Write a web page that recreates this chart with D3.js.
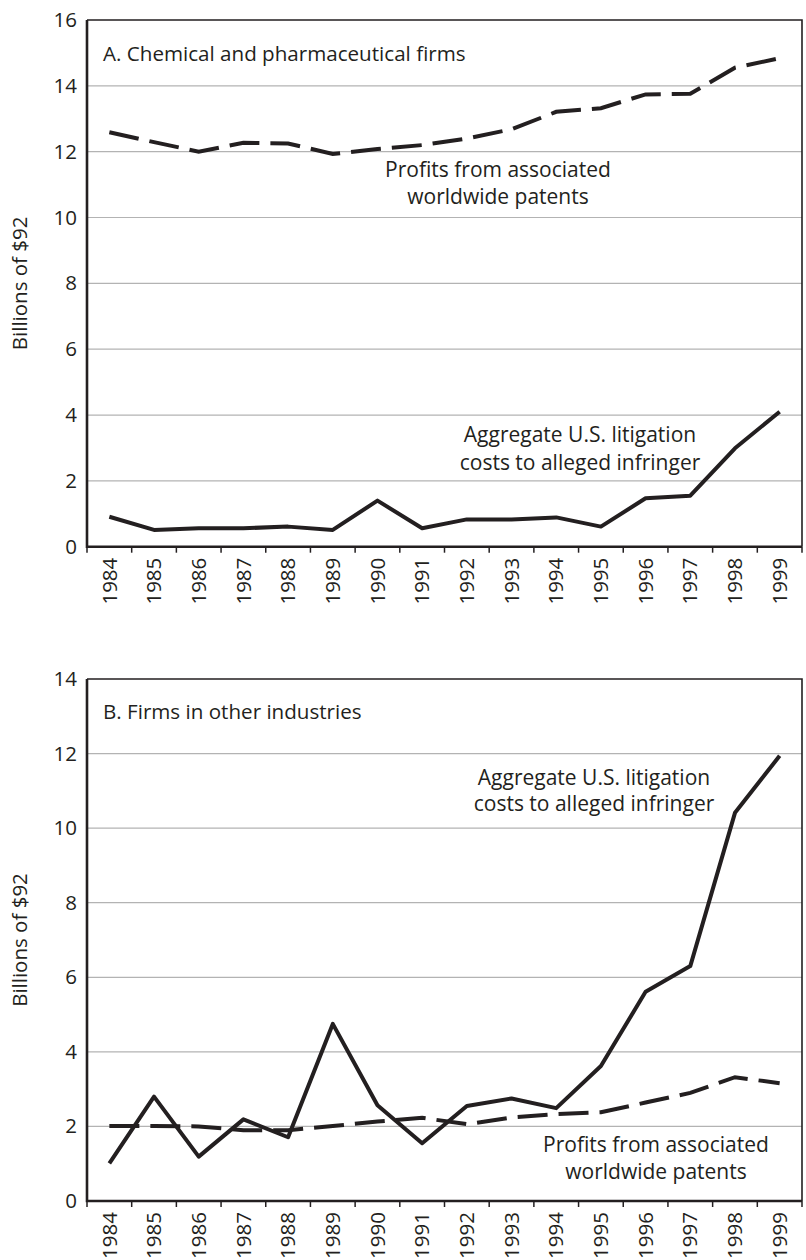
<!DOCTYPE html>
<html lang="en">
	<head>
		<meta charset="utf-8">
		<title>Patent profits and litigation costs</title>
		<script type="text/javascript" src="https://cdn.jsdelivr.net/npm/d3@7"></script>
		<style>
			body { margin: 0; background: #fff; }
			text { font-family: "Open Sans", sans-serif; fill: #231f20; }
		</style>
	</head>
	<body>
		<script type="text/javascript">
			// data (billions of 1992 dollars)
			var years = ["1984", "1985", "1986", "1987", "1988", "1989", "1990", "1991",
						"1992", "1993", "1994", "1995", "1996", "1997", "1998", "1999"];

			var chemProfits = [12.59, 12.29, 12.0, 12.27, 12.25, 11.93, 12.08, 12.2,
						12.40, 12.68, 13.21, 13.32, 13.74, 13.76, 14.55, 14.84];
			var chemLitigation = [0.91, 0.51, 0.56, 0.56, 0.61, 0.51, 1.40, 0.56,
						0.83, 0.83, 0.89, 0.61, 1.47, 1.55, 2.99, 4.10];

			var otherProfits = [2.01, 2.01, 2.0, 1.9, 1.9, 2.01, 2.13, 2.23,
						2.06, 2.24, 2.33, 2.38, 2.64, 2.90, 3.32, 3.16];
			var otherLitigation = [1.01, 2.80, 1.19, 2.19, 1.71, 4.75, 2.57, 1.55,
						2.55, 2.75, 2.49, 3.62, 5.61, 6.30, 10.41, 11.94];

			var chemTicks = [0, 2, 4, 6, 8, 10, 12, 14, 16];
			var otherTicks = [0, 2, 4, 6, 8, 10, 12, 14];

			var w = 806;
			var h = 1260;
			var left = 87;
			var right = 802;
			var ink = "#231f20";

			var svg = d3.select("body")
						.append("svg")
						.attr("width", w)
						.attr("height", h);

			var x = d3.scaleBand()
					.domain(years)
					.range([left, right]);

			function drawPanel(top, bottom, ticks, title, profits, litigation, notes) {
				var y = d3.scaleLinear()
						.domain([0, d3.max(ticks)])
						.range([bottom, top]);

				var g = svg.append("g");

				// gray grid lines
				g.selectAll("line.grid")
				 .data(ticks.slice(1, -1))
				 .enter()
				 .append("line")
				 .attr("class", "grid")
				 .attr("x1", left)
				 .attr("x2", right)
				 .attr("y1", function(d) { return y(d); })
				 .attr("y2", function(d) { return y(d); })
				 .attr("stroke", "#b3b3b3")
				 .attr("stroke-width", 1.2);

				// top and right frame
				g.append("path")
				 .attr("d", "M" + left + "," + top + "H" + right + "V" + bottom)
				 .attr("fill", "none")
				 .attr("stroke", ink)
				 .attr("stroke-width", 1.6);

				// y axis labels
				var yAxis = d3.axisLeft(y)
							.tickValues(ticks)
							.tickSize(0)
							.tickPadding(10);
				var ya = g.append("g")
						 .attr("transform", "translate(" + left + ",0)")
						 .call(yAxis);
				ya.select(".domain").remove();
				ya.selectAll("text")
				  .attr("font-size", "20.5px")
				  .attr("fill", ink)
				  .style("font-family", "'Open Sans', sans-serif");

				// x axis with ticks between the years
				var xAxis = d3.axisBottom(x).tickSize(0).tickPadding(0);
				var xa = g.append("g")
						 .attr("transform", "translate(0," + bottom + ")")
						 .call(xAxis);
				xa.select(".domain").remove();
				xa.selectAll("text")
				  .attr("transform", "rotate(-90)")
				  .attr("x", -11)
				  .attr("y", 0)
				  .attr("dy", "0.35em")
				  .attr("text-anchor", "end")
				  .attr("font-size", "20.5px")
				  .attr("fill", ink)
				  .style("font-family", "'Open Sans', sans-serif");

				g.selectAll("line.xtick")
				 .data(years.concat(["end"]))
				 .enter()
				 .append("line")
				 .attr("class", "xtick")
				 .attr("x1", function(d, i) { return left + i * x.bandwidth(); })
				 .attr("x2", function(d, i) { return left + i * x.bandwidth(); })
				 .attr("y1", bottom)
				 .attr("y2", bottom + 6)
				 .attr("stroke", ink)
				 .attr("stroke-width", 1.5);

				// left and bottom axis lines
				g.append("path")
				 .attr("d", "M" + left + "," + top + "V" + bottom + "H" + right)
				 .attr("fill", "none")
				 .attr("stroke", ink)
				 .attr("stroke-width", 2.6);

				// axis title
				g.append("text")
				 .attr("transform", "translate(20," + ((top + bottom) / 2) + ") rotate(-90)")
				 .attr("text-anchor", "middle")
				 .attr("dy", "0.35em")
				 .attr("font-size", "20.5px")
				 .text("Billions of $92");

				// panel title
				g.append("text")
				 .attr("x", 103)
				 .attr("y", title.y)
				 .attr("font-size", "20.6px")
				 .text(title.text);

				var line = d3.line()
						.x(function(d, i) { return x(years[i]) + x.bandwidth() / 2; })
						.y(function(d) { return y(d); });

				g.append("path")
				 .datum(profits)
				 .attr("d", line)
				 .attr("fill", "none")
				 .attr("stroke", ink)
				 .attr("stroke-width", 4)
				 .attr("stroke-dasharray", "30,11");

				g.append("path")
				 .datum(litigation)
				 .attr("d", line)
				 .attr("fill", "none")
				 .attr("stroke", ink)
				 .attr("stroke-width", 4)
				 .attr("stroke-linejoin", "round");

				// line labels
				notes.forEach(function(n) {
					var t = g.append("text")
							 .attr("text-anchor", "middle")
							 .attr("font-size", "21px");
					n.lines.forEach(function(s, i) {
						t.append("tspan")
						 .attr("x", n.x)
						 .attr("y", n.y + i * n.step)
						 .text(s);
					});
				});
			}

			drawPanel(20, 546.7, chemTicks,
				{ text: "A. Chemical and pharmaceutical firms", y: 61 },
				chemProfits, chemLitigation,
				[{ lines: ["Profits from associated", "worldwide patents"], x: 498, y: 177, step: 26.5 },
				 { lines: ["Aggregate U.S. litigation", "costs to alleged infringer"], x: 580, y: 442, step: 27.5 }]);

			drawPanel(679, 1201, otherTicks,
				{ text: "B. Firms in other industries", y: 719 },
				otherProfits, otherLitigation,
				[{ lines: ["Aggregate U.S. litigation", "costs to alleged infringer"], x: 594, y: 785, step: 26 },
				 { lines: ["Profits from associated", "worldwide patents"], x: 656, y: 1152, step: 26.5 }]);
		</script>
	</body>
</html>
